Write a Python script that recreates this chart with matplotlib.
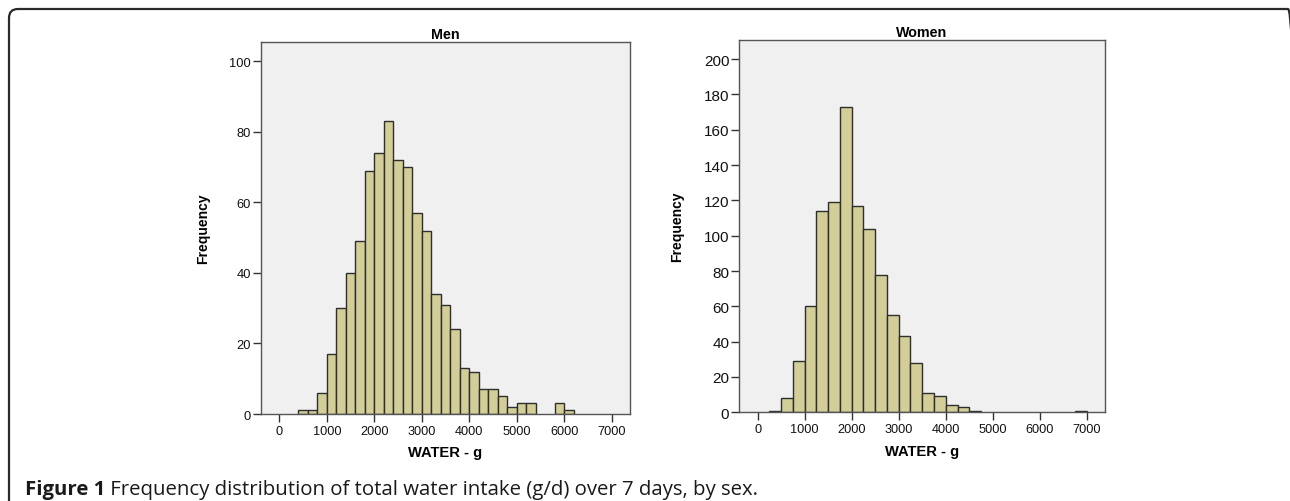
import matplotlib
matplotlib.use("Agg")
import matplotlib.pyplot as plt
from matplotlib.patches import FancyBboxPatch

# ---------------- data ----------------
men_bin_edges = [400, 600, 800, 1000, 1200, 1400, 1600, 1800, 2000, 2200, 2400,
                 2600, 2800, 3000, 3200, 3400, 3600, 3800, 4000, 4200, 4400,
                 4600, 4800, 5000, 5200, 5400, 5600, 5800, 6000, 6200]
men_counts = [1, 1, 6, 17, 30, 40, 49, 69, 74, 83, 72, 70, 57, 52, 34, 31, 24,
              13, 12, 7, 7, 5, 2, 3, 3, 0, 0, 3, 1]

women_bin_edges = [250, 500, 750, 1000, 1250, 1500, 1750, 2000, 2250, 2500,
                   2750, 3000, 3250, 3500, 3750, 4000, 4250, 4500, 4750, 5000,
                   5250, 5500, 5750, 6000, 6250, 6500, 6750, 7000]
women_counts = [1, 8, 29, 60, 114, 119, 173, 117, 104, 78, 55, 43, 28, 11, 9,
                4, 3, 1, 0, 0, 0, 0, 0, 0, 0, 0, 1]

x_ticks = [0, 1000, 2000, 3000, 4000, 5000, 6000, 7000]
men_y_ticks = [0, 20, 40, 60, 80, 100]
women_y_ticks = [0, 20, 40, 60, 80, 100, 120, 140, 160, 180, 200]

panel_titles = ["Men", "Women"]
x_label = "WATER - g"
y_label = "Frequency"
caption_bold = "Figure 1"
caption_rest = " Frequency distribution of total water intake (g/d) over 7 days, by sex."

# ---------------- style ----------------
W, H = 1290, 502
DPI = 100
BAR_FILL = "#d3ce98"
BAR_EDGE = "#2e2e2e"
AX_BG = "#f0f0f0"
SPINE = "#555555"

plt.rcParams["font.family"] = ["Liberation Sans", "DejaVu Sans"]

fig = plt.figure(figsize=(W / DPI, H / DPI), dpi=DPI)
fig.patch.set_facecolor("white")


def px_axes(left, top, right, bottom):
    return fig.add_axes([left / W, 1 - bottom / H, (right - left) / W, (bottom - top) / H])


def draw_panel(ax, edges, counts, yticks, ylim, title, ytick_size):
    lefts = [edges[i] for i in range(len(counts)) if counts[i] > 0]
    widths = [edges[i + 1] - edges[i] for i in range(len(counts)) if counts[i] > 0]
    heights = [c for c in counts if c > 0]
    ax.bar(lefts, heights, width=widths, align="edge", color=BAR_FILL,
           edgecolor=BAR_EDGE, linewidth=1.0, zorder=2)
    ax.set_facecolor(AX_BG)
    ax.set_xlim(-395, 7385)
    ax.set_ylim(0, ylim)
    ax.set_xticks(x_ticks)
    ax.set_yticks(yticks)
    ax.tick_params(axis="x", direction="out", length=6, width=1, color="#333333",
                   labelsize=9.2, pad=2, labelcolor="#111111")
    ax.tick_params(axis="y", direction="out", length=6, width=1, color="#333333",
                   labelsize=ytick_size, pad=1, labelcolor="#111111")
    for s in ax.spines.values():
        s.set_color(SPINE)
        s.set_linewidth(1.0)
    ax.set_title(title, fontsize=10.3, fontweight="bold", pad=3)
    ax.set_xlabel(x_label, fontsize=10.6, fontweight="bold", labelpad=6)
    ax.set_ylabel(y_label, fontsize=10, fontweight="bold", labelpad=14)


ax_m = px_axes(260.7, 43.3, 630, 415)
draw_panel(ax_m, men_bin_edges, men_counts, men_y_ticks, 105.4, panel_titles[0], 9.3)

ax_w = px_axes(739, 41, 1105, 413.3)
draw_panel(ax_w, women_bin_edges, women_counts, women_y_ticks, 210.8, panel_titles[1], 11)

# frame around the figure (rounded top-left, cut at bottom/right)
R = 9.0
frame = FancyBboxPatch((9 / W, -0.2), (1297 - 9) / W, (H - 10) / H + 0.2,
                       boxstyle="round,pad=0,rounding_size=%f" % (R / W),
                       transform=fig.transFigure, facecolor="none",
                       edgecolor="#2a2a2a", linewidth=1.6, mutation_aspect=W / H)
fig.add_artist(frame)

# caption
CAP_SIZE = 14.7
t1 = fig.text(25 / W, 1 - 495 / H, caption_bold, fontsize=CAP_SIZE, fontweight="bold",
              family=["Open Sans", "DejaVu Sans"], color="#1a1a1a", va="baseline")
fig.canvas.draw()
bb = t1.get_window_extent()
fig.text(bb.x1 / W, 1 - 495 / H, caption_rest, fontsize=CAP_SIZE,
         family=["Open Sans", "DejaVu Sans"], color="#1a1a1a", va="baseline")

fig.savefig("out.png", dpi=DPI)
